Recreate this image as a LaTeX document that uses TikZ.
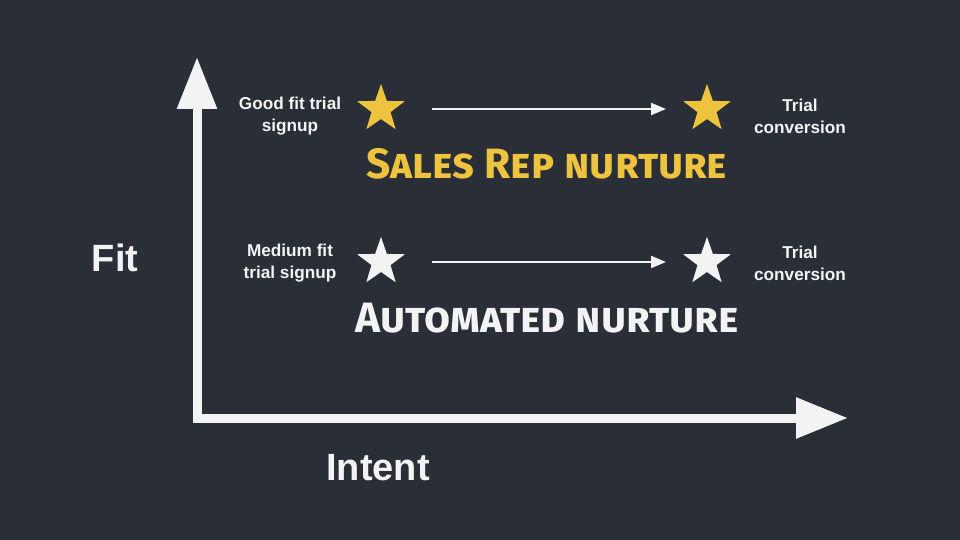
\documentclass[tikz,border=0pt]{standalone}
\usepackage{fontspec}
\setmainfont{Liberation Sans}
\newfontfamily\handfont{Fira Sans}
\usetikzlibrary{shapes.geometric,arrows.meta,positioning}
\definecolor{slate}{HTML}{2A2E37}
\definecolor{stargold}{HTML}{EEC33E}
\definecolor{chalk}{HTML}{F3F3F3}

\begin{document}
\begin{tikzpicture}[
  x=0.5pt,y=-0.5pt,
  rowtext/.style={text=chalk,font=\fontsize{8.6}{11}\selectfont\bfseries,align=center},
  axistext/.style={text=chalk,font=\fontsize{19}{22}\selectfont\bfseries},
  handtext/.style={text=#1,font=\handfont\fontsize{21.2}{25}\selectfont\bfseries\scshape},
  goal/.style={star,star points=5,star point ratio=2.5,minimum size=25pt,inner sep=0pt,fill=#1},
  flow/.style={-{Triangle[length=7.5pt,width=6pt]},line width=1pt,draw=chalk},
  axis/.style={{Triangle[length=26pt,width=19pt]}-{Triangle[length=26pt,width=19.5pt]},line width=4.5pt,draw=chalk}
]
\useasboundingbox[fill=slate] (0,0) rectangle (960,540);

% axes
\coordinate (origin) at (197,418);
\coordinate (fittip) at (197,57);
\coordinate (intenttip) at (848,418);
\draw[axis] (fittip) -- (origin) -- (intenttip);
\node[axistext] (fitlabel) at (115,258) {Fit};
\node[axistext] (intentlabel) at (378,468) {Intent};

% good fit row
\node[goal=stargold] (goodstar) at (381,109) {};
\node[goal=stargold] (goodwin) at (707,109) {};
\node[rowtext] (goodfit) at (290,116) {Good fit trial\\signup};
\node[rowtext] (goodconv) at (800,116) {Trial\\conversion};
\draw[flow,shorten <=25.5pt,shorten >=20.5pt] (goodstar.center) -- (goodwin.center);
\node[handtext=stargold] (repnurture) at (547,164) {Sales Rep nurture};

% medium fit row
\node[goal=chalk] (mediumstar) at (381,262) {};
\node[goal=chalk] (mediumwin) at (707,262) {};
\node[rowtext] (mediumfit) at (290,263) {Medium fit\\trial signup};
\node[rowtext] (mediumconv) at (800,263) {Trial\\conversion};
\draw[flow,shorten <=25.5pt,shorten >=20.5pt] (mediumstar.center) -- (mediumwin.center);
\node[handtext=chalk] (autonurture) at (547,318) {Automated nurture};
\end{tikzpicture}
\end{document}
